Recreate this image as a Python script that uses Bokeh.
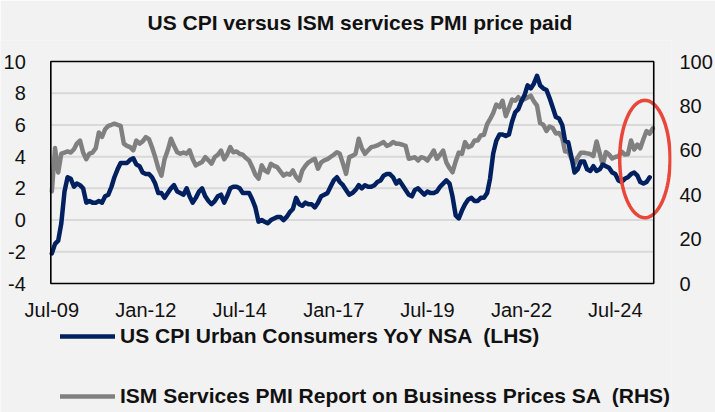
import numpy as np
import pandas as pd
from bokeh.plotting import figure
from bokeh.models import (Range1d, LinearAxis, FixedTicker, Legend, LegendItem,
                          PolyAnnotation, BoxAnnotation)
from bokeh.embed import file_html
from bokeh.resources import INLINE

# ---------------- data ----------------
start_month = "2009-07-01"

# US CPI Urban Consumers YoY NSA (%), monthly Jul-09 .. Jun-25
cpi_yoy = [
    -2.1, -1.5, -1.3, -0.2, 1.8, 2.7,
    2.6, 2.1, 2.3, 2.2, 2.0, 1.1, 1.2, 1.1, 1.1, 1.2, 1.1, 1.5,
    1.6, 2.1, 2.7, 3.2, 3.6, 3.6, 3.6, 3.8, 3.9, 3.5, 3.4, 3.0,
    2.9, 2.9, 2.7, 2.3, 1.7, 1.7, 1.4, 1.7, 2.0, 2.2, 1.8, 1.7,
    1.6, 2.0, 1.5, 1.1, 1.4, 1.8, 2.0, 1.5, 1.2, 1.0, 1.2, 1.5,
    1.6, 1.1, 1.5, 2.0, 2.1, 2.1, 2.0, 1.7, 1.7, 1.7, 1.3, 0.8,
    -0.1, 0.0, -0.1, -0.2, 0.0, 0.1, 0.2, 0.2, 0.0, 0.2, 0.5, 0.7,
    1.4, 1.0, 0.9, 1.1, 1.0, 1.0, 0.8, 1.1, 1.5, 1.6, 1.7, 2.1,
    2.5, 2.7, 2.4, 2.2, 1.9, 1.6, 1.7, 1.9, 2.2, 2.0, 2.2, 2.1,
    2.1, 2.2, 2.4, 2.5, 2.8, 2.9, 2.9, 2.7, 2.3, 2.5, 2.2, 1.9,
    1.6, 1.5, 1.9, 2.0, 1.8, 1.6, 1.8, 1.7, 1.7, 1.8, 2.1, 2.3,
    2.5, 2.3, 1.5, 0.3, 0.1, 0.6, 1.0, 1.3, 1.4, 1.2, 1.2, 1.4,
    1.4, 1.7, 2.6, 4.2, 5.0, 5.4, 5.4, 5.3, 5.4, 6.2, 6.8, 7.0,
    7.5, 7.9, 8.5, 8.3, 8.6, 9.1, 8.5, 8.3, 8.2, 7.7, 7.1, 6.5,
    6.4, 6.0, 5.0, 4.9, 4.0, 3.0, 3.2, 3.7, 3.7, 3.2, 3.1, 3.4,
    3.1, 3.2, 3.5, 3.4, 3.3, 3.0, 2.9, 2.5, 2.4, 2.6, 2.7, 2.9,
    3.0, 2.8, 2.4, 2.3, 2.4, 2.7,
]

# ISM Services PMI Report on Business Prices SA, monthly Jul-09 .. Jul-25
ism_prices = [
    41.5, 61.0, 50.0, 58.5, 59.0, 59.5,
    59.0, 60.5, 63.0, 64.4, 59.0, 56.0, 58.5, 59.0, 61.0, 68.0, 66.0, 69.5,
    71.0, 71.5, 72.0, 71.5, 71.0, 63.0, 62.0, 61.4, 60.0, 64.4, 63.0, 64.0,
    65.9, 65.0, 61.4, 56.9, 52.0, 48.6, 56.0, 60.0, 65.2, 62.0, 59.1, 58.5,
    59.0, 58.5, 60.0, 56.0, 53.2, 54.0, 54.7, 56.9, 55.5, 54.0, 57.0, 58.0,
    59.9, 56.0, 58.0, 61.4, 59.1, 59.5, 58.4, 58.0, 56.5, 55.4, 52.4, 49.0,
    47.2, 53.2, 51.0, 50.1, 53.9, 53.0, 52.4, 50.5, 48.6, 49.5, 49.0, 50.9,
    48.0, 46.4, 50.9, 53.0, 54.6, 55.5, 56.2, 51.7, 54.6, 55.5, 56.0, 57.0,
    58.0, 59.1, 58.4, 54.0, 49.4, 56.9, 57.5, 58.4, 65.2, 61.0, 58.4, 60.0,
    61.4, 61.8, 62.2, 63.0, 63.7, 62.0, 62.5, 63.7, 63.0, 62.9, 62.5, 62.0,
    56.2, 56.5, 56.9, 55.4, 56.9, 56.5, 55.4, 57.5, 59.9, 56.2, 58.0, 59.9,
    54.6, 52.0, 50.1, 55.0, 59.0, 58.4, 63.7, 61.4, 62.0, 64.4, 64.4, 66.7,
    67.0, 71.8, 74.0, 76.8, 80.6, 79.5, 82.3, 75.4, 79.0, 82.9, 82.3, 83.9,
    82.3, 83.1, 83.8, 84.6, 82.1, 80.1, 72.3, 71.5, 68.7, 70.7, 70.0, 67.6,
    67.8, 65.6, 59.5, 59.6, 56.2, 54.1, 56.8, 58.9, 58.9, 58.6, 58.3, 57.4,
    64.0, 58.6, 53.4, 59.2, 58.1, 56.3, 57.0, 57.3, 59.4, 58.1, 58.2, 64.4,
    60.4, 62.6, 60.9, 65.1, 68.7, 67.5, 69.9,
]

tick_dates = ["2009-07-01", "2012-01-01", "2014-07-01", "2017-01-01",
              "2019-07-01", "2022-01-01", "2024-07-01"]
tick_labels = ["Jul-09", "Jan-12", "Jul-14", "Jan-17", "Jul-19", "Jan-22", "Jul-24"]
left_ticks = [-4, -2, 0, 2, 4, 6, 8, 10]
right_ticks = [0, 20, 40, 60, 80, 100]

title_text = "US CPI versus ISM services PMI price paid"
cpi_label = "US CPI Urban Consumers YoY NSA  (LHS)"
ism_label = "ISM Services PMI Report on Business Prices SA  (RHS)"

# chart box (date span) and highlight ellipse around the latest readings
box_start, box_end = "2009-06-21", "2025-07-10"
highlight_center = ("2025-04-15", 3.85)
highlight_radius_days = 245
highlight_radius_lhs = 3.7

# ---------------- styling ----------------
FONT = "Liberation Sans"
BG = "#f2f2f2"
TEXT = "#111111"
BLUE = "#002060"
GREY = "#808080"
RED = "#e8473a"

cpi_dates = pd.date_range(start_month, periods=len(cpi_yoy), freq="MS")
ism_dates = pd.date_range(start_month, periods=len(ism_prices), freq="MS")


def ms(d):
    return int(pd.Timestamp(d).value // 10**6)


# Pixel geometry: the drawn chart box spans x 51..662, y 61..283.  The Bokeh
# frame is made larger (left/top for the tick labels, right for the ellipse,
# down for the legend) so nothing is clipped; box, grid and axes sit inside it.
W, H = 715, 412
BOX_L, BOX_R, BOX_T, BOX_B = 51, 662, 61, 283
FR_L, FR_R, FR_T, FR_B = 0, 680, 40, 412
XAXIS_Y = 326      # screen y of the (invisible) x-axis line; labels sit above it
TITLE_LEFT = 147   # screen x where the title starts
TITLE_BOTTOM = 26  # screen y of the bottom of the title box

x0, x1 = ms(box_start), ms(box_end)
kx = (BOX_R - BOX_L) / (x1 - x0)
y_lo, y_hi = left_ticks[0], left_ticks[-1]
ky = (BOX_B - BOX_T) / (y_hi - y_lo)
r_lo, r_hi = right_ticks[0], right_ticks[-1]
kr = (BOX_B - BOX_T) / (r_hi - r_lo)

p = figure(width=W, height=H, output_backend="svg", toolbar_location=None,
           x_axis_type="datetime", x_axis_location="above",
           x_range=Range1d(x0 - (BOX_L - FR_L) / kx, x1 + (FR_R - BOX_R) / kx),
           y_range=Range1d(y_lo - (FR_B - BOX_B) / ky, y_hi + (BOX_T - FR_T) / ky),
           min_border_left=FR_L, min_border_right=W - FR_R,
           min_border_top=FR_T, min_border_bottom=H - FR_B)
p.extra_y_ranges = {"rhs": Range1d(r_lo - (FR_B - BOX_B) / kr,
                                   r_hi + (BOX_T - FR_T) / kr)}

p.background_fill_color = BG
p.border_fill_color = BG
p.outline_line_color = None

p.title.text = title_text
p.title.align = "left"
p.title.offset = TITLE_LEFT - FR_L
p.title.text_font = FONT
p.title.text_font_size = "21px"
p.title.text_font_style = "bold"
p.title.text_color = TEXT
p.title.standoff = FR_T - TITLE_BOTTOM

p.xgrid.visible = False
p.ygrid.visible = False

# horizontal gridlines inside the box
grid_vals = left_ticks[1:-1]
p.segment(x0=[x0] * len(grid_vals), x1=[x1] * len(grid_vals), y0=grid_vals,
          y1=grid_vals, line_color="#d9d9d9", line_width=2)


def style_axis(ax, standoff):
    ax.axis_line_color = None
    ax.major_tick_line_color = None
    ax.minor_tick_line_color = None
    ax.major_label_text_font = FONT
    ax.major_label_text_font_size = "20px"
    ax.major_label_text_color = TEXT
    ax.major_label_standoff = standoff


xax = p.xaxis[0]
xax.ticker = FixedTicker(ticks=[ms(d) for d in tick_dates])
xax.major_label_overrides = {ms(d): lab for d, lab in zip(tick_dates, tick_labels)}
xax.fixed_location = y_lo - (XAXIS_Y - BOX_B) / ky
style_axis(xax, 0)

yax = p.yaxis[0]
yax.ticker = FixedTicker(ticks=left_ticks)
yax.major_label_overrides = {v: str(v) for v in left_ticks}
yax.fixed_location = x0
style_axis(yax, 19)

rax = LinearAxis(y_range_name="rhs", ticker=FixedTicker(ticks=right_ticks))
rax.major_label_overrides = {v: str(v) for v in right_ticks}
style_axis(rax, 2)
p.add_layout(rax, "right")

r_ism = p.line(ism_dates, ism_prices, y_range_name="rhs", line_color=GREY,
               line_width=4.5, line_join="round", line_cap="round")
r_cpi = p.line(cpi_dates, cpi_yoy, line_color=BLUE, line_width=4.5,
               line_join="round", line_cap="round")

# chart box
p.add_layout(BoxAnnotation(left=x0, right=x1, bottom=y_lo, top=y_hi,
                           fill_alpha=0, line_color="#000000", line_alpha=1,
                           line_width=1.6, level="overlay"))

# highlight ellipse
t = np.linspace(0, 2 * np.pi, 120)
cx = ms(highlight_center[0])
rx = highlight_radius_days * 86400000
ex = cx + rx * np.cos(t)
ey = highlight_center[1] + highlight_radius_lhs * np.sin(t)
p.add_layout(PolyAnnotation(xs=list(ex), ys=list(ey), fill_alpha=0,
                            line_color=RED, line_alpha=1, line_width=3.5))

legend = Legend(items=[LegendItem(label=cpi_label, renderers=[r_cpi]),
                       LegendItem(label=ism_label, renderers=[r_ism])],
                location=(60 - FR_L, FR_B - 408), orientation="vertical",
                glyph_width=55, glyph_height=20, label_height=20,
                label_standoff=5, spacing=36, padding=0, margin=0,
                border_line_alpha=0, background_fill_alpha=0,
                label_text_font=FONT, label_text_font_size="21px",
                label_text_font_style="bold", label_text_color=TEXT)
p.add_layout(legend)

open("out.html", "w").write(file_html(p, INLINE))
